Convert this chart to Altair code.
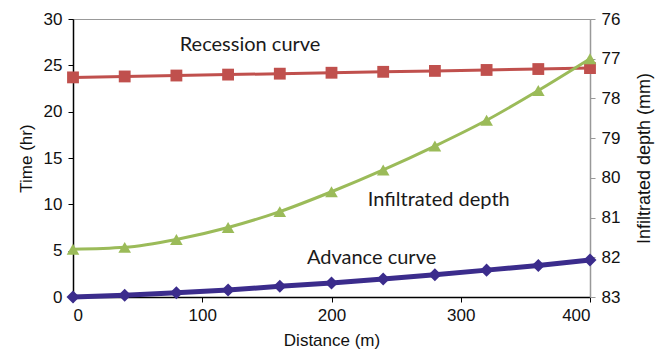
import altair as alt
import pandas as pd

distance = [0, 40, 80, 120, 160, 200, 240, 280, 320, 360, 400]
recession = [23.7, 23.8, 23.9, 24.0, 24.1, 24.2, 24.3, 24.4, 24.5, 24.6, 24.7]
advance = [0.0, 0.2, 0.45, 0.75, 1.15, 1.5, 1.95, 2.4, 2.9, 3.4, 4.0]
infiltrated = [81.8, 81.75, 81.55, 81.25, 80.85, 80.35, 79.8, 79.2, 78.55, 77.8, 77.0]

label_text = ["Recession curve", "Infiltrated depth", "Advance curve"]
label_x = [137, 283, 231]
label_y = [27.2, 10.5, 4.2]

x_ticks = [0, 100, 200, 300, 400]
left_ticks = [0, 5, 10, 15, 20, 25, 30]
right_ticks = [76, 77, 78, 79, 80, 81, 82, 83]

RED = "#C0504D"
BLUE = "#3B2C8C"
GREEN = "#9BBB59"
FONT = "Liberation Sans"

df = pd.DataFrame({"distance": distance, "recession": recession,
                   "advance": advance, "infiltrated": infiltrated})
labels = pd.DataFrame({"text": label_text, "x": label_x, "y": label_y})

x_enc = alt.X("distance:Q",
              scale=alt.Scale(domain=[0, 400], nice=False, zero=False),
              axis=alt.Axis(values=x_ticks, title="Distance (m)", grid=False,
                            domainColor="#000", tickColor="#000", tickSize=5,
                            labelPadding=5, titlePadding=9))

left_axis = alt.Axis(values=left_ticks, title="Time (hr)", grid=False,
                     domainColor="#000", tickColor="#000", tickSize=5,
                     labelPadding=6, titlePadding=8)
left_scale = alt.Scale(domain=[0, 30], nice=False, zero=False)

red = alt.Chart(df).mark_line(
    color=RED, strokeWidth=3,
    point=alt.OverlayMarkDef(shape="square", size=140, filled=True, color=RED, opacity=1)
).encode(x=x_enc, y=alt.Y("recession:Q", scale=left_scale, axis=left_axis))

blue = alt.Chart(df).mark_line(
    color=BLUE, strokeWidth=5,
    point=alt.OverlayMarkDef(shape="diamond", size=170, filled=True, color=BLUE, opacity=1)
).encode(x=x_enc, y=alt.Y("advance:Q", scale=left_scale, axis=left_axis))

text = alt.Chart(labels).mark_text(
    font="Lato", fontSize=20, color="#1a1a1a", align="center", baseline="middle"
).encode(x=alt.X("x:Q", scale=alt.Scale(domain=[0, 400], nice=False, zero=False)),
         y=alt.Y("y:Q", scale=left_scale, axis=left_axis),
         text="text:N")

left = alt.layer(red, blue, text)

green = alt.Chart(df).mark_line(
    color=GREEN, strokeWidth=3, interpolate="monotone",
    point=alt.OverlayMarkDef(shape="triangle-up", size=160, filled=True, color=GREEN, opacity=1)
).encode(x=x_enc,
         y=alt.Y("infiltrated:Q",
                 scale=alt.Scale(domain=[76, 83], reverse=True, nice=False, zero=False),
                 axis=alt.Axis(orient="right", values=right_ticks,
                               title="Infiltrated depth (mm)", grid=False,
                               domainColor="#999", tickColor="#999", tickSize=5,
                               labelPadding=6, titlePadding=16, titleAngle=270,
                               titleBaseline="top", titleFontSize=18)))

chart = alt.layer(left, green).resolve_scale(y="independent").properties(
    width=517, height=278,
    autosize=alt.AutoSizeParams(type="none"),
    padding={"left": 65, "top": 11, "right": 65, "bottom": 55},
).configure_view(stroke="#999", strokeWidth=1).configure_axis(
    labelFont=FONT, titleFont=FONT, labelFontSize=17, titleFontSize=17,
    titleFontWeight="normal", labelColor="#111", titleColor="#111",
    domainWidth=1.5
)

chart.save("out.html", embed_options={"renderer": "svg", "actions": False})
